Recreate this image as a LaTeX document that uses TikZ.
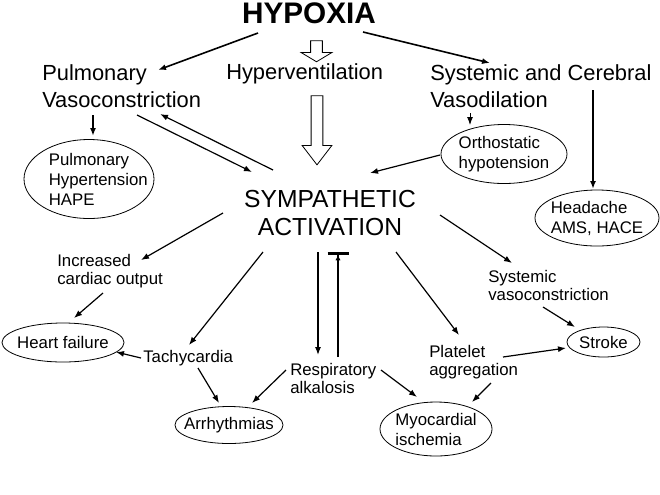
\documentclass[tikz,border=0pt]{standalone}
\usepackage{fontspec}
\setmainfont{Liberation Sans}
\usetikzlibrary{arrows.meta,shapes.geometric,shapes.arrows}

\tikzset{
  biglbl/.style={inner sep=0pt,anchor=base west,align=left,
    font=\fontsize{16.4}{20.25}\selectfont},
  smalllbl/.style={inner sep=0pt,anchor=base west,align=left,
    font=\fontsize{12.6}{13.5}\selectfont},
  oval/.style={draw,ellipse,inner sep=-12pt,align=left,line width=0.6pt,
    font=\fontsize{12.6}{15}\selectfont},
  arr/.style={-{Latex[length=6pt,width=4.5pt]},line width=0.9pt},
  hollowarr/.style={draw,single arrow,rotate=-90,inner xsep=0pt,inner ysep=4.1pt,
    line width=0.6pt},
}

\begin{document}
\begin{tikzpicture}[x=0.75pt,y=-0.75pt]
  \path[use as bounding box,fill=white] (0,0) rectangle (660,494);

  % top level
  \node[inner sep=0pt,anchor=base,font=\fontsize{22.3}{26}\selectfont\bfseries]
    (hypoxia) at (309,23) {HYPOXIA};
  \node[biglbl] (pulmvaso) at (42,107) {Pulmonary\\Vasoconstriction};
  \node[biglbl] (hypervent) at (226,79) {Hyperventilation};
  \node[biglbl] (sysvaso) at (430,107) {Systemic and Cerebral\\Vasodilation};

  % hollow arrows
  \node[hollowarr,minimum height=15.75pt,minimum width=22.5pt,
        single arrow head extend=7.1pt,single arrow tip angle=118]
    (ventin) at (316.5,49.5) {};
  \node[hollowarr,minimum height=51.75pt,minimum width=21.75pt,
        single arrow head extend=6.75pt,single arrow tip angle=75]
    (ventout) at (317,126.5) {};

  % second row
  \node[oval,minimum width=97.5pt,minimum height=59.25pt]
    (pulmhyp) at (89,179) {\hspace*{14pt}Pulmonary\\\hspace*{14pt}Hypertension\\\hspace*{14pt}HAPE};
  \node[oval,minimum width=94.5pt,minimum height=44.25pt]
    (ortho) at (504,154) {Orthostatic\\hypotension};
  \node[oval,minimum width=93pt,minimum height=42pt]
    (headache) at (597,218) {Headache\\AMS, HACE};

  \node[inner sep=0pt,anchor=base,align=center,font=\fontsize{18.5}{21}\selectfont]
    (symp) at (330,235) {SYMPATHETIC\\ACTIVATION};

  % effects
  \node[smalllbl] (incco) at (57,284) {Increased\\cardiac output};
  \node[oval,minimum width=91.5pt,minimum height=29.25pt]
    (heartfail) at (63,342.5) {Heart failure};
  \node[smalllbl] (tachy) at (143,362) {Tachycardia};
  \node[oval,minimum width=81pt,minimum height=27.75pt]
    (arrhy) at (229,425) {Arrhythmias};
  \node[smalllbl] (resp) at (290,393) {Respiratory\\alkalosis};
  \node[oval,minimum width=84pt,minimum height=40.5pt]
    (myo) at (436,429) {Myocardial\\ischemia};
  \node[smalllbl] (platelet) at (429,375) {Platelet\\aggregation};
  \node[smalllbl] (sysvc) at (488,300) {Systemic\\vasoconstriction};
  \node[oval,minimum width=54.75pt,minimum height=22.5pt]
    (stroke) at (603.5,342) {Stroke};

  % connectors
  \draw[arr,line width=1.2pt] ([shift={(-51,10)}]hypoxia.base) -- ([shift={(116,-37)}]pulmvaso.base west);
  \draw[arr,line width=1.2pt] ([shift={(54,9)}]hypoxia.base) -- ([shift={(60,-44)}]sysvaso.base west);
  \draw[arr,line width=1.2pt] ([shift={(51,8)}]pulmvaso.base west) -- ([shift={(4,-43)}]pulmhyp.center);
  \draw[arr] ([shift={(95,8)}]pulmvaso.base west) -- ([shift={(-78,-63)}]symp.base);
  \draw[arr] ([shift={(-57,-65)}]symp.base) -- ([shift={(118,7)}]pulmvaso.base west);
  \draw[arr,line width=0.7pt] ([shift={(40,6)}]sysvaso.base west) -- ([shift={(-34,-29)}]ortho.center);
  \draw[arr,line width=1.4pt] ([shift={(163,-17)}]sysvaso.base west) -- ([shift={(-4,-29)}]headache.center);
  \draw[arr] ([shift={(-64,1)}]ortho.center) -- ([shift={(40,-62)}]symp.base);

  \draw[arr] ([shift={(-107,-22)}]symp.base) -- ([shift={(84,-24)}]incco.base west);
  \draw[arr] ([shift={(46,9)}]incco.base west) -- ([shift={(11,-24.5)}]heartfail.center);
  \draw[arr] ([shift={(-67,17)}]symp.base) -- ([shift={(46,-17)}]tachy.base west);
  \draw[arr] ([shift={(-2,-4)}]tachy.base west) -- ([shift={(53,9.5)}]heartfail.center);
  \draw[arr] ([shift={(55,6)}]tachy.base west) -- ([shift={(-10,-22)}]arrhy.center);
  \draw[arr] ([shift={(-12,17)}]symp.base) -- ([shift={(28,-38)}]resp.base west);
  \draw[-{Latex[length=4pt,width=4pt]Bar[width=15.75pt,line width=2.2pt]},line width=1.4pt]
    ([shift={(48,-36)}]resp.base west) -- ([shift={(8,17)}]symp.base);
  \draw[arr] ([shift={(-4,-23)}]resp.base west) -- ([shift={(23,-22)}]arrhy.center);
  \draw[arr] ([shift={(91,-23)}]resp.base west) -- ([shift={(-19,-32)}]myo.center);
  \draw[arr] ([shift={(66,17)}]symp.base) -- ([shift={(30,-40)}]platelet.base west);
  \draw[arr] ([shift={(74,-18)}]platelet.base west) -- ([shift={(-37.5,6)}]stroke.center);
  \draw[arr] ([shift={(62,8)}]platelet.base west) -- ([shift={(36,-27)}]myo.center);
  \draw[arr] ([shift={(110,-20)}]symp.base) -- ([shift={(24,-37)}]sysvc.base west);
  \draw[arr] ([shift={(55,7)}]sysvc.base west) -- ([shift={(-28.5,-15)}]stroke.center);
\end{tikzpicture}
\end{document}
